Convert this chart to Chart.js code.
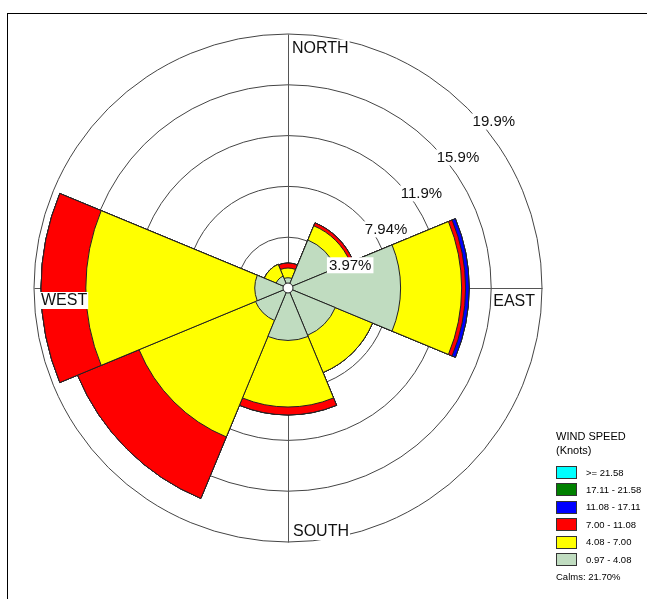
<!DOCTYPE html>
<html>
<head>
<meta charset="utf-8">
<script src="https://cdn.jsdelivr.net/npm/chart.js@4.4.0/dist/chart.umd.min.js"></script>
<style>
    html, body { margin: 0; padding: 0; background: #fff; }
    body { width: 647px; height: 599px; position: relative; overflow: hidden; font-family: "Liberation Sans", Arial, sans-serif; }
    #moldura { position: absolute; left: 7px; top: 13px; width: 700px; height: 700px; border-top: 1px solid #000; border-left: 1px solid #000; }
    #grafico { position: absolute; left: 0; top: 0; width: 647px; height: 599px; }
    .txt { position: absolute; white-space: nowrap; line-height: 1; color: #000; }
    .caixa { position: absolute; width: 19px; height: 11px; border: 1px solid #333; }
</style>
</head>
<body>
<div id="moldura"></div>
<div id="grafico"><canvas id="rosaVentos"></canvas></div>
<div id="legenda"></div>

<script>
// direções (8 setores de 45 graus, começando no norte)
const direcoes = ['N', 'NE', 'E', 'SE', 'S', 'SW', 'W', 'NW'];

// classes de velocidade (de cima para baixo na legenda)
const classes = ['>= 21.58', '17.11 - 21.58', '11.08 - 17.11', '7.00 - 11.08', '4.08 - 7.00', '0.97 - 4.08'];
const cores = ['#00ffff', '#008000', '#0000ff', '#ff0000', '#ffff00', '#c0dcc0'];

// frequência (%) de cada classe por direção
const vel_21_58 = [0, 0, 0, 0, 0, 0, 0, 0];
const vel_17_21 = [0, 0, 0, 0, 0, 0, 0, 0];
const vel_11_17 = [0, 0, 0.28, 0, 0, 0, 0, 0];
const vel_07_11 = [0.39, 0.25, 0.31, 0, 0.62, 5.2, 3.5, 0];
const vel_04_07 = [0.76, 1.2, 4.77, 3.15, 5.2, 9.85, 13.2, 1.0];
const vel_01_04 = [0.8, 4.06, 8.8, 4.0, 4.1, 2.75, 2.6, 1.0];
const calmas = 21.70;

// anéis
const ticksAneis = [3.97, 7.94, 11.91, 15.88, 19.85];
const rotulosAneis = ['3.97%', '7.94%', '11.9%', '15.9%', '19.9%'];
const pontosCardeais = ['NORTH', 'EAST', 'SOUTH', 'WEST'];

const fonte = '"Liberation Sans", Arial, sans-serif';
Chart.defaults.font.family = fonte;

// acumula as classes (da mais fraca para a mais forte)
const series = [vel_01_04, vel_04_07, vel_07_11, vel_11_17, vel_17_21, vel_21_58];
const coresSeries = cores.slice().reverse();
const nomesSeries = classes.slice().reverse();
let acumulado = direcoes.map(() => 0);
const datasets = series.map((s, i) => {
    acumulado = acumulado.map((v, j) => v + s[j]);
    return {
        label: nomesSeries[i],
        data: acumulado.slice(),
        backgroundColor: coresSeries[i],
        borderColor: '#222',
        borderWidth: 1
    };
});

// cruz, círculo de calmas e rótulos
const extras = {
    id: 'extras',
    beforeDatasetsDraw(chart) {
        const r = chart.scales.r;
        const ctx = chart.ctx;
        const xc = r.xCenter + 0.5, yc = r.yCenter + 0.5, R = r.drawingArea;
        ctx.save();
        ctx.strokeStyle = '#555';
        ctx.lineWidth = 1;
        ctx.beginPath();
        ctx.moveTo(xc, yc - R); ctx.lineTo(xc, yc + R);
        ctx.moveTo(xc - R, yc); ctx.lineTo(xc + R, yc);
        ctx.stroke();
        ctx.restore();
    },
    afterDatasetsDraw(chart) {
        const r = chart.scales.r;
        const ctx = chart.ctx;
        const xc = r.xCenter, yc = r.yCenter, R = r.drawingArea;
        ctx.save();

        ctx.beginPath();
        ctx.arc(xc, yc, 5, 0, Math.PI * 2);
        ctx.fillStyle = '#fff';
        ctx.fill();
        ctx.strokeStyle = '#222';
        ctx.lineWidth = 1;
        ctx.stroke();

        ctx.font = '15px ' + fonte;
        ctx.textBaseline = 'alphabetic';
        ticksAneis.forEach((v, i) => {
            const d = r.getDistanceFromCenterForValue(v);
            const x = xc + d * Math.SQRT1_2 + 5;
            const y = yc - d * Math.SQRT1_2 + 17.7;
            const w = ctx.measureText(rotulosAneis[i]).width;
            ctx.fillStyle = '#fff';
            ctx.fillRect(x - 2, y - 12.5, w + 4, 16);
            ctx.fillStyle = '#111';
            ctx.fillText(rotulosAneis[i], x, y);
        });

        ctx.font = '16px ' + fonte;
        const pos = [
            [xc + 4, yc - R + 18.5, 'left'],
            [xc + R - 7, yc + 17.5, 'right'],
            [xc + 5, yc + R - 6, 'left'],
            [xc - R + 7, yc + 17, 'left']
        ];
        pontosCardeais.forEach((t, i) => {
            const [x, y, al] = pos[i];
            const w = ctx.measureText(t).width;
            const x0 = al === 'right' ? x - w : x;
            ctx.fillStyle = '#fff';
            ctx.fillRect(x0 - 1, y - 13, w + 2, 17);
            ctx.fillStyle = '#111';
            ctx.textAlign = 'left';
            ctx.fillText(t, x0, y);
        });
        ctx.restore();
    }
};

const ctx = document.getElementById('rosaVentos').getContext('2d');
const rosa = new Chart(ctx, {
    type: 'polarArea',
    data: {
        labels: direcoes,
        datasets: datasets
    },
    options: {
        responsive: true,
        maintainAspectRatio: false,
        animation: false,
        layout: { padding: { left: 34, top: 34, right: 105, bottom: 57 } },
        plugins: {
            legend: { display: false },
            tooltip: { enabled: false }
        },
        scales: {
            r: {
                min: 0,
                max: 19.85,
                startAngle: -22.5,
                ticks: { display: false, stepSize: 3.97 },
                grid: { circular: true, color: '#444', lineWidth: 1 },
                angleLines: { display: false },
                pointLabels: { display: false }
            }
        }
    },
    plugins: [extras]
});

// legenda
const legenda = document.getElementById('legenda');
function addTexto(txt, x, y, tam) {
    const d = document.createElement('div');
    d.className = 'txt';
    d.style.left = x + 'px';
    d.style.top = y + 'px';
    d.style.fontSize = tam + 'px';
    d.textContent = txt;
    legenda.appendChild(d);
}
addTexto('WIND SPEED', 556, 431.3, 11);
addTexto('(Knots)', 556, 444.6, 11);
classes.forEach((c, i) => {
    const topo = 466 + i * 17.4;
    const b = document.createElement('div');
    b.className = 'caixa';
    b.style.left = '556px';
    b.style.top = topo + 'px';
    b.style.background = cores[i];
    legenda.appendChild(b);
    addTexto(c, 586, topo + 1.6, 9.5);
});
addTexto('Calms: ' + calmas.toFixed(2) + '%', 556, 572.3, 9.5);
</script>
</body>
</html>
